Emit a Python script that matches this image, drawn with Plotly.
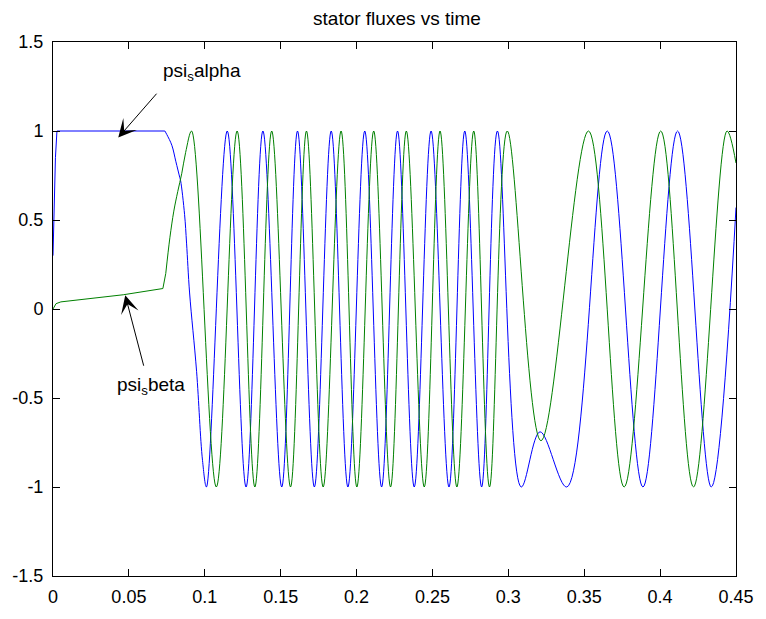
import plotly.graph_objects as go

# ---- data ----
# start-up part (drawn with straight segments)
t_alpha_start = [0.0, 0.0007, 0.0016, 0.0026, 0.0737]
psi_alpha_start = [0.30, 0.60, 0.85, 1.0, 1.0]
# oscillating part (smooth)
t_alpha = [0.0737, 0.0750, 0.0783, 0.0809, 0.0835,
           0.0841, 0.0867, 0.0880, 0.0900, 0.0946, 0.0985, 0.1011,
           0.1148, 0.1272, 0.1383, 0.1507, 0.1611, 0.1722, 0.1833, 0.1943,
           0.2054, 0.2165, 0.2270, 0.2380, 0.2491, 0.2609, 0.2713, 0.2824,
           0.2928, 0.3085, 0.3209, 0.3385, 0.3652, 0.3887, 0.4115, 0.4337, 0.4500]
psi_alpha = [1.0, 0.98, 0.92, 0.83, 0.74,
             0.72, 0.53, 0.37, 0.09, -0.35, -0.85, -1.0,
             1.0, -1.0, 1.0, -1.0, 1.0, -1.0, 1.0, -1.0,
             1.0, -1.0, 1.0, -1.0, 1.0, -1.0, 1.0, -1.0,
             1.0, -1.0, -0.69, -1.0, 1.0, -1.0, 1.0, -1.0, 0.57]

t_beta_start = [0.0, 0.0020, 0.0052, 0.0463, 0.0724, 0.0743]
psi_beta_start = [0.0, 0.03, 0.04, 0.08, 0.115, 0.20]
t_beta = [0.0743, 0.0770, 0.0796, 0.0822,
          0.0848, 0.0874, 0.0913,
          0.1076, 0.1213, 0.1330, 0.1441, 0.1565, 0.1670, 0.1780, 0.1898,
          0.2002, 0.2113, 0.2224, 0.2328, 0.2446, 0.2550, 0.2661, 0.2772,
          0.2876, 0.2993, 0.3215, 0.3528, 0.3763, 0.4004, 0.4220, 0.4441, 0.4500]
psi_beta = [0.20, 0.40, 0.55, 0.66,
            0.76, 0.88, 1.0,
            -1.0, 1.0, -1.0, 1.0, -1.0, 1.0, -1.0, 1.0,
            -1.0, 1.0, -1.0, 1.0, -1.0, 1.0, -1.0, 1.0,
            -1.0, 1.0, -0.74, 1.0, -1.0, 1.0, -1.0, 1.0, 0.82]

x_ticks = [0, 0.05, 0.1, 0.15, 0.2, 0.25, 0.3, 0.35, 0.4, 0.45]
x_tick_labels = ["0", "0.05", "0.1", "0.15", "0.2", "0.25", "0.3", "0.35", "0.4", "0.45"]
y_ticks = [-1.5, -1, -0.5, 0, 0.5, 1, 1.5]
y_tick_labels = ["-1.5", "-1", "-0.5", "0", "0.5", "1", "1.5"]

title_text = "stator fluxes vs time"
label_alpha = "psi<sub>s</sub>alpha"
label_beta = "psi<sub>s</sub>beta"

FONT = "Liberation Sans, Arial, Helvetica, sans-serif"
BLUE = "#0000FF"
GREEN = "#008000"

fig = go.Figure()
fig.add_trace(go.Scatter(x=t_alpha_start, y=psi_alpha_start, mode="lines",
                         line=dict(color=BLUE, width=1),
                         showlegend=False, hoverinfo="skip"))
fig.add_trace(go.Scatter(x=t_alpha, y=psi_alpha, mode="lines",
                         line=dict(color=BLUE, width=1, shape="spline", smoothing=1.0),
                         showlegend=False, hoverinfo="skip"))
fig.add_trace(go.Scatter(x=t_beta_start, y=psi_beta_start, mode="lines",
                         line=dict(color=GREEN, width=1),
                         showlegend=False, hoverinfo="skip"))
fig.add_trace(go.Scatter(x=t_beta, y=psi_beta, mode="lines",
                         line=dict(color=GREEN, width=1, shape="spline", smoothing=1.0),
                         showlegend=False, hoverinfo="skip"))

axis_common = dict(showline=True, linecolor="black", linewidth=1, mirror="ticks",
                   ticks="inside", ticklen=7, tickcolor="black", tickwidth=1,
                   showgrid=False, zeroline=False,
                   tickfont=dict(family=FONT, size=18, color="black"))

fig.update_xaxes(range=[0, 0.45], tickvals=x_ticks, ticktext=x_tick_labels,
                 ticklabelstandoff=4, **axis_common)
fig.update_yaxes(range=[-1.5, 1.5], tickvals=y_ticks, ticktext=y_tick_labels,
                 ticklabelstandoff=5, **axis_common)

# arrows (tip at curve, tail toward label)
fig.add_annotation(x=0.0430, y=0.963, ax=0.0691, ay=1.218, axref="x", ayref="y",
                   xref="x", yref="y", text="", showarrow=True, arrowhead=3,
                   arrowsize=3.0, arrowwidth=1, arrowcolor="black", standoff=0)
fig.add_annotation(x=0.0476, y=0.077, ax=0.0600, ay=-0.327, axref="x", ayref="y",
                   xref="x", yref="y", text="", showarrow=True, arrowhead=3,
                   arrowsize=3.0, arrowwidth=1, arrowcolor="black", standoff=0)
fig.add_annotation(x=0.0711, y=1.33, xref="x", yref="y", text=label_alpha,
                   showarrow=False, xanchor="left", yanchor="middle",
                   font=dict(family=FONT, size=19, color="black"))
fig.add_annotation(x=0.0880, y=-0.43, xref="x", yref="y", text=label_beta,
                   showarrow=False, xanchor="right", yanchor="middle",
                   font=dict(family=FONT, size=19, color="black"))

fig.update_layout(
    width=766, height=619,
    margin=dict(l=52, r=24, t=42, b=35),
    paper_bgcolor="white", plot_bgcolor="white",
    title=dict(text=title_text, x=397/766, xanchor="center", xref="container",
               y=1 - 18/619, yanchor="middle", yref="container",
               font=dict(family=FONT, size=19, color="black")),
)

fig.write_html("out.html")
